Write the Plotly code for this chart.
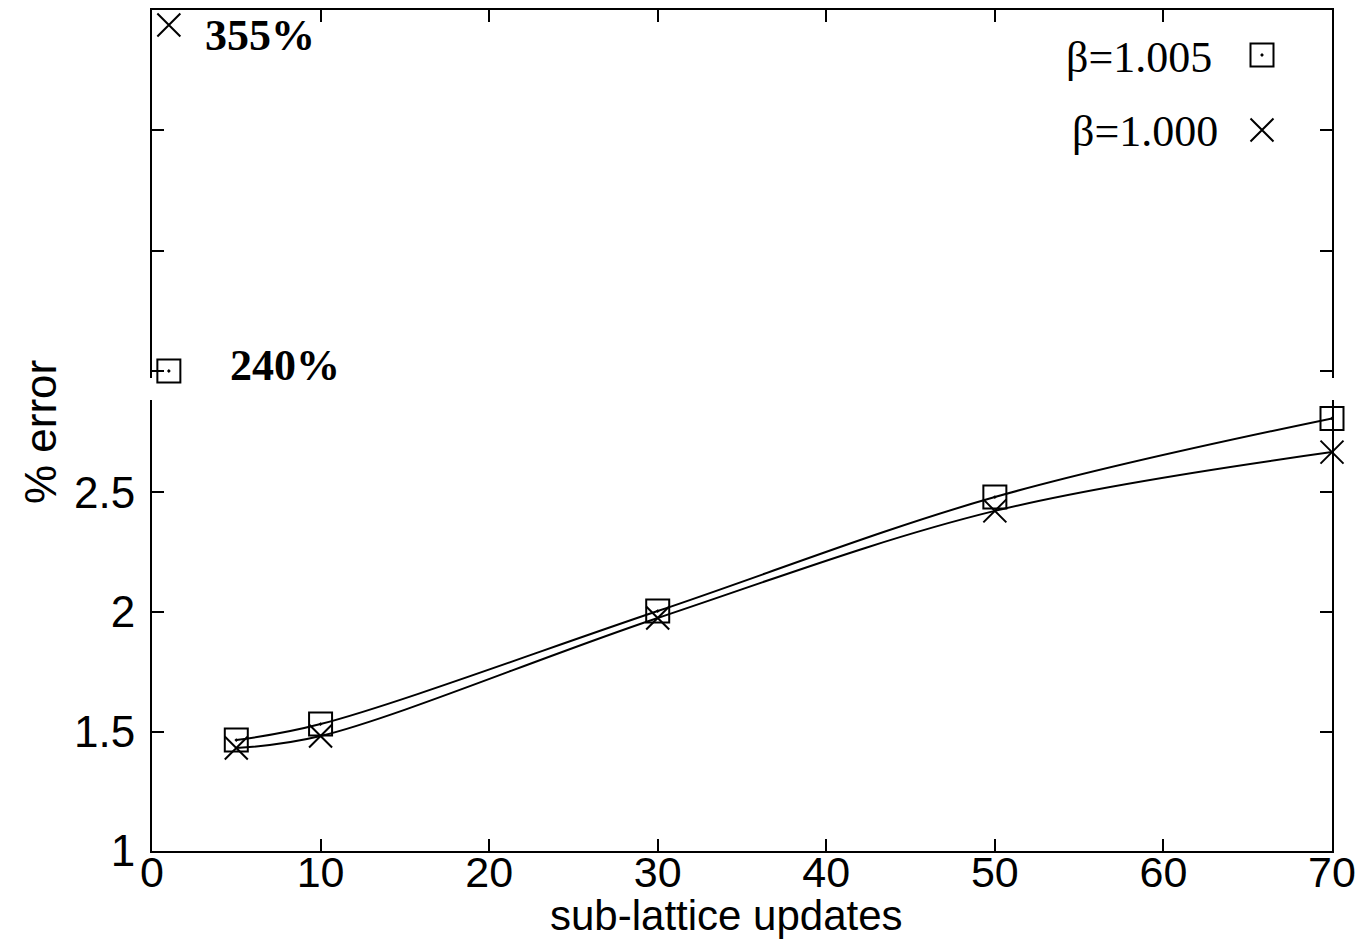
import plotly.graph_objects as go

# ---- data ----
updates = [5, 10, 30, 50, 70]
err_b1005 = [1.464, 1.531, 2.004, 2.481, 2.81]
err_b1000 = [1.431, 1.481, 1.975, 2.423, 2.669]

outlier_x = [1]
outlier_b1005 = [240]
outlier_b1000 = [355]
outlier_labels = ["240%", "355%"]

x_ticks = [0, 10, 20, 30, 40, 50, 60, 70]
y_ticks_low = [1, 1.5, 2, 2.5]
y_ticks_high = [240, 280, 320, 360]

legend_names = ["β=1.005", "β=1.000"]

# ---- layout constants (page has an 8px body margin) ----
OFF = 8
W, H = 1369 - OFF, 939 - OFF
ML, MR, MT, MB = 152 - OFF, 37, 10 - OFF, 88
PW = W - ML - MR
PH = H - MT - MB
PLOT_LEFT = 152
PLOT_BOTTOM = 851


def px_x(p):
    return (p - PLOT_LEFT) / PW


def px_y(p):
    return (PLOT_BOTTOM - p) / PH


low_top = px_y(400)
high_bot = px_y(378)

SQ = dict(symbol="square-open-dot", size=23, color="black", line=dict(color="black", width=2))
XX = dict(symbol="x-thin-open", size=23, color="black", line=dict(color="black", width=2))

fig = go.Figure()

# lower panel lines and markers
for ys in (err_b1005, err_b1000):
    fig.add_trace(go.Scatter(x=updates, y=ys, mode="lines",
                             line=dict(color="black", width=2, shape="spline", smoothing=1),
                             xaxis="x", yaxis="y", showlegend=False, hoverinfo="skip"))
fig.add_trace(go.Scatter(x=updates, y=err_b1005, mode="markers", marker=SQ, name=legend_names[0],
                         xaxis="x", yaxis="y", showlegend=False, cliponaxis=False))
fig.add_trace(go.Scatter(x=updates, y=err_b1000, mode="markers", marker=XX, name=legend_names[1],
                         xaxis="x", yaxis="y", showlegend=False, cliponaxis=False))

# upper panel outliers
fig.add_trace(go.Scatter(x=outlier_x, y=outlier_b1005, mode="markers", marker=SQ,
                         xaxis="x2", yaxis="y2", showlegend=False, cliponaxis=False))
fig.add_trace(go.Scatter(x=outlier_x, y=outlier_b1000, mode="markers", marker=XX,
                         xaxis="x2", yaxis="y2", showlegend=False, cliponaxis=False))

# legend keys (separate full-area hidden axes)
leg_x = px_x(1262)
leg_y = [px_y(55), px_y(130)]
fig.add_trace(go.Scatter(x=[leg_x], y=[leg_y[0]], mode="markers", marker=SQ, xaxis="x3", yaxis="y3",
                         showlegend=False, cliponaxis=False, hoverinfo="skip"))
fig.add_trace(go.Scatter(x=[leg_x], y=[leg_y[1]], mode="markers", marker=XX, xaxis="x3", yaxis="y3",
                         showlegend=False, cliponaxis=False, hoverinfo="skip"))

tickfont = dict(family="Liberation Sans, Arial, sans-serif", size=44, color="black")
xtickfont = dict(family="Liberation Sans, Arial, sans-serif", size=43, color="black")
titlefont = dict(family="Liberation Sans, Arial, sans-serif", size=42, color="black")
serif = "Liberation Serif, Times New Roman, serif"

axis_common = dict(showline=True, linecolor="black", linewidth=2, ticks="inside", ticklen=12,
                   tickwidth=2, tickcolor="black", showgrid=False, zeroline=False)

fig.update_layout(
    width=W, height=H,
    margin=dict(l=ML, r=MR, t=MT, b=MB),
    paper_bgcolor="white", plot_bgcolor="rgba(0,0,0,0)",
    showlegend=False,
    xaxis=dict(domain=[0, 1], range=[0, 70], anchor="y", tickvals=x_ticks, tickfont=xtickfont,
               ticklabelstandoff=-18, **axis_common),
    yaxis=dict(domain=[0, low_top], range=[1, 2.887], anchor="x", tickvals=y_ticks_low,
               ticktext=[str(v) for v in y_ticks_low], tickfont=tickfont, mirror="ticks",
               ticklabelstandoff=6, **axis_common),
    xaxis2=dict(domain=[0, 1], range=[0, 70], anchor="y2", side="top", matches="x", tickvals=x_ticks,
                showticklabels=False, **axis_common),
    yaxis2=dict(domain=[high_bot, 1], range=[237.67, 360], anchor="x2", tickvals=y_ticks_high,
                showticklabels=False, mirror="ticks", **axis_common),
    xaxis3=dict(domain=[0, 1], range=[0, 1], anchor="y3", visible=False),
    yaxis3=dict(domain=[0, 1], range=[0, 1], anchor="x3", visible=False),
)

annotations = [
    dict(text="sub-lattice updates", x=px_x(726), y=px_y(915), xref="paper", yref="paper",
         xanchor="center", yanchor="middle", showarrow=False, font=titlefont),
    dict(text="% error", x=px_x(40), y=px_y(432), xref="paper", yref="paper", textangle=-90,
         xanchor="center", yanchor="middle", showarrow=False, font=tickfont),
    dict(text="<b>" + outlier_labels[1] + "</b>", x=px_x(203), y=px_y(36), xref="paper", yref="paper",
         xanchor="left", yanchor="middle", showarrow=False, font=dict(family=serif, size=44, color="black")),
    dict(text="<b>" + outlier_labels[0] + "</b>", x=px_x(228), y=px_y(365), xref="paper", yref="paper",
         xanchor="left", yanchor="middle", showarrow=False, font=dict(family=serif, size=44, color="black")),
    dict(text=legend_names[0], x=px_x(1214), y=px_y(58), xref="paper", yref="paper",
         xanchor="right", yanchor="middle", showarrow=False, font=dict(family=serif, size=44, color="black")),
    dict(text=legend_names[1], x=px_x(1220), y=px_y(132), xref="paper", yref="paper",
         xanchor="right", yanchor="middle", showarrow=False, font=dict(family=serif, size=44, color="black")),
]
fig.update_layout(annotations=annotations)

fig.write_html("out.html")
